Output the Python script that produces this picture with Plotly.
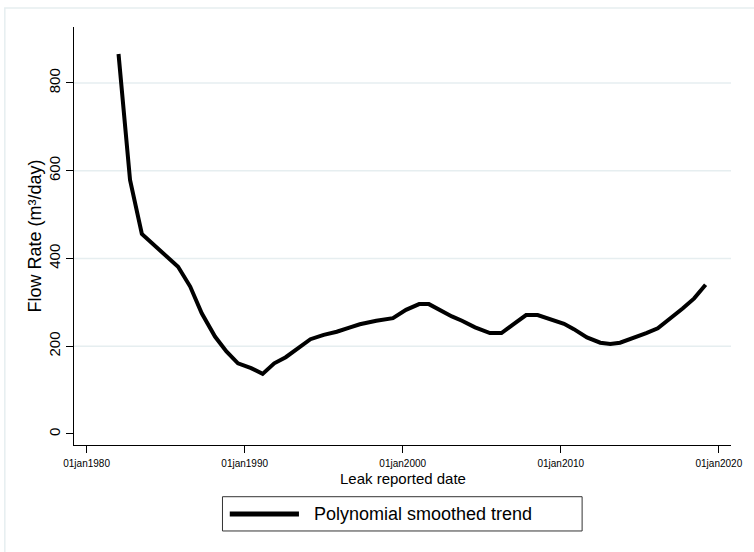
import plotly.graph_objects as go

# Data (leak reported date vs smoothed flow rate)
dates = [
    "1982-01-08", "1982-10-01", "1983-07-01", "1984-03-01", "1984-11-20",
    "1985-10-15", "1986-07-22", "1987-04-15", "1988-02-15", "1988-11-05",
    "1989-07-30", "1990-05-30", "1991-02-20", "1991-11-15", "1992-08-07",
    "1993-05-01", "1994-03-01", "1995-01-01", "1995-10-30", "1996-07-30",
    "1997-04-15", "1998-05-01", "1999-05-20", "2000-03-17", "2001-01-15",
    "2001-08-28", "2002-07-01", "2003-02-10", "2003-10-01", "2004-07-30",
    "2005-07-08", "2006-04-01", "2007-01-30", "2007-10-22", "2008-07-15",
    "2009-06-25", "2010-03-17", "2010-10-30", "2011-08-28", "2012-07-01",
    "2013-02-17", "2013-10-01", "2014-07-30", "2015-05-30", "2016-02-20",
    "2016-11-17", "2017-09-16", "2018-06-10", "2019-03-01",
]
flow_rate = [
    866, 579, 456, 435, 412,
    381, 336, 275, 222, 188,
    161, 150, 137, 161, 175,
    195, 216, 226, 233, 242,
    250, 258, 264, 283, 296,
    296, 279, 268, 258, 243,
    230, 230, 252, 271, 271,
    260, 251, 239, 220, 208,
    205, 208, 218, 230, 241,
    261, 286, 309, 340,
]

x_tick_vals = ["1980-01-01", "1990-01-01", "2000-01-01", "2010-01-01", "2020-01-01"]
x_tick_text = ["01jan1980", "01jan1990", "01jan2000", "01jan2010", "01jan2020"]
y_tick_vals = [0, 200, 400, 600, 800]
grid_vals = [200, 400, 600, 800]

series_name = "Polynomial smoothed trend"
x_title = "Leak reported date"
y_title = "Flow Rate (m³/day)"

FONT = "Liberation Sans, Arial, Helvetica, sans-serif"
GRID = "#e6eef0"

fig = go.Figure()
fig.add_trace(go.Scatter(
    x=dates, y=flow_rate, mode="lines", name=series_name,
    line=dict(color="#000000", width=4), showlegend=False,
))

shapes = []
# outer graph-region border (light)
shapes.append(dict(type="rect", xref="paper", yref="paper",
                   x0=-0.1053, x1=1.05, y0=-0.30, y1=1.0455,
                   line=dict(color=GRID, width=1.5), fillcolor="rgba(0,0,0,0)",
                   layer="below"))
# horizontal gridlines
for g in grid_vals:
    shapes.append(dict(type="line", xref="paper", yref="y", x0=0, x1=1, y0=g, y1=g,
                       line=dict(color=GRID, width=1.5), layer="below"))
# legend box and sample line
shapes.append(dict(type="rect", xref="paper", yref="paper",
                   x0=0.2260, x1=0.7734, y0=-0.2057, y1=-0.1237,
                   line=dict(color="#333333", width=1), fillcolor="white"))
shapes.append(dict(type="line", xref="paper", yref="paper",
                   x0=0.2371, x1=0.3424, y0=-0.1651, y1=-0.1651,
                   line=dict(color="#000000", width=5)))

annotations = [
    dict(text=series_name, xref="paper", yref="paper", x=0.3624, y=-0.1651,
         xanchor="left", yanchor="middle", showarrow=False,
         font=dict(family=FONT, size=18, color="#000")),
    dict(text=x_title, xref="paper", yref="paper", x=0.5, y=-0.0813,
         xanchor="center", yanchor="middle", showarrow=False,
         font=dict(family=FONT, size=15, color="#000")),
    dict(text=y_title, xref="paper", yref="paper", x=-0.0586, y=0.5,
         xanchor="center", yanchor="middle", showarrow=False, textangle=-90,
         font=dict(family=FONT, size=18, color="#000")),
]

fig.update_layout(
    width=754, height=552,
    margin=dict(l=74, r=15, t=27, b=107),
    paper_bgcolor="white", plot_bgcolor="white",
    font=dict(family=FONT, color="#000"),
    shapes=shapes, annotations=annotations,
    showlegend=False,
)
fig.update_xaxes(
    type="date", range=["1979-03-16", "2020-10-08"],
    tickmode="array", tickvals=x_tick_vals, ticktext=x_tick_text,
    ticks="outside", ticklen=7, tickwidth=1, tickcolor="#000",
    showline=True, linecolor="#000", linewidth=1,
    showgrid=False, zeroline=False, tickangle=0, ticklabelstandoff=2,
    tickfont=dict(family=FONT, size=10, color="#000"),
)
fig.update_yaxes(
    range=[-25.1, 927.6],
    tickmode="array", tickvals=y_tick_vals,
    ticks="outside", ticklen=7, tickwidth=1, tickcolor="#000",
    showline=True, linecolor="#000", linewidth=1,
    showgrid=False, zeroline=False, tickangle=-90,
    tickfont=dict(family=FONT, size=15, color="#000"),
)

fig.write_html("out.html", config={"displayModeBar": False},
               post_script="document.body.style.margin='0px';")
